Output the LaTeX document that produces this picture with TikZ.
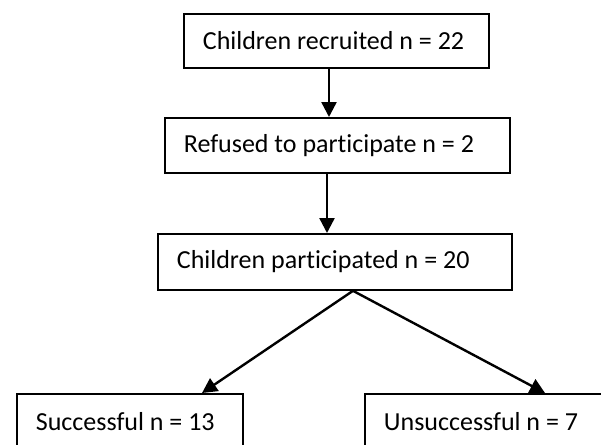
\documentclass[tikz,border=0pt]{standalone}
\usepackage{fontspec}
\setmainfont{Carlito}[Ligatures={NoCommon}]
\usetikzlibrary{arrows.meta}
\begin{document}
\begin{tikzpicture}[x=1pt,y=-1pt,
  flowbox/.style={draw, line width=1.8pt, inner xsep=19pt, inner ysep=0pt,
    minimum height=55pt, anchor=north west,
    font=\fontsize{26}{31}\selectfont},
  arr/.style={line width=2.4pt, -{Triangle[width=15pt,length=15pt]}}]
\useasboundingbox (0,0) rectangle (601,444);
\clip (0,0) rectangle (601,444);
\node[flowbox, minimum height=54pt] (b1) at (183,13) {\makebox[267pt][l]{Children recruited n = 22}};
\node[flowbox] (b2) at (164,117) {\makebox[307pt][l]{Refused to participate n = 2}};
\node[flowbox, minimum height=56pt] (b3) at (157,233) {\makebox[316pt][l]{Children participated n = 20}};
\node[flowbox, minimum height=56pt] (b4) at (16,393) {\makebox[188pt][l]{Successful n = 13}};
\node[flowbox, minimum height=56pt] (b5) at (364,393) {\makebox[238pt][l]{Unsuccessful n = 7}};
\coordinate (a1) at (329,0);
\coordinate (a2) at (327,0);
\coordinate (apex) at (353,0);
\coordinate (t4) at (202,0);
\coordinate (t5) at (545,0);
\draw[arr] (b1.south -| a1) -- (b2.north -| a1);
\draw[arr] (b2.south -| a2) -- (b3.north -| a2);
\draw[arr] (b3.south -| apex) -- (b4.north -| t4);
\draw[arr] (b3.south -| apex) -- (b5.north -| t5);
\end{tikzpicture}
\end{document}
